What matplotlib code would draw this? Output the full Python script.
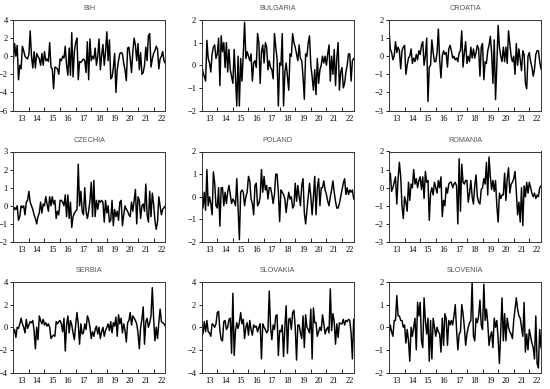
import numpy as np
import matplotlib
matplotlib.use("Agg")
from matplotlib import pyplot as plt

# monthly values, 2013M01 - 2022M10 (one row per year)
bih = [
    -0.6, 1.4, 0.0, 1.2, -2.6, -1.0, -1.4, 1.1, 0.6, 0.0, -0.2, -0.3,
    0.2, 2.8, 0.0, -1.3, 0.5, -1.3, 0.3, 0.0, -0.3, -1.0, 0.3, -1.0,
    0.5, -0.5, -0.3, -0.6, 1.5, -1.2, -1.4, -3.6, -1.2, -1.3, -1.4, -2.0,
    -0.3, -0.5, 0.0, -0.2, 1.1, -1.0, -2.1, 0.9, -2.1, 2.6, -2.3, 0.5,
    1.5, 2.0, -2.6, -0.6, -0.7, -0.5, -0.3, -0.5, -1.8, 1.6, -2.6, 1.9,
    -0.5, 0.0, -0.3, 0.9, -1.0, 0.0, 1.9, -1.5, 0.1, 1.3, -1.0, 0.5,
    2.7, -0.5, 1.8, -2.5, -2.3, -1.3, 0.3, -4.0, -1.5, -0.5, 0.3, 0.4,
    0.3, -0.8, -1.5, -2.7, 0.9, 1.0, -0.3, -1.8, 0.5, 2.0, 1.2, -0.5,
    1.4, -1.5, 0.4, -2.0, -1.8, -1.0, 1.0, -0.5, 2.3, 2.5, -1.2, -0.3,
    0.3, 0.6, 1.1, 0.8, -1.4, -0.3, 0.0, 0.5, -0.5, -0.8,
]
bulgaria = [
    0.0, -0.3, -0.5, -0.7, 1.1, 0.3, 0.1, -0.3, 0.5, 0.8, 0.9, 0.3,
    0.5, 1.2, -0.9, 1.3, 0.6, 1.0, -0.1, 1.0, -0.3, 0.7, -0.2, -0.5,
    -0.8, 0.7, -0.5, -1.8, 0.4, -1.8, 0.3, -0.7, 0.5, 1.9, 0.3, 0.6,
    0.4, 0.2, 0.5, -0.7, 0.1, 0.2, -0.1, 1.4, 1.0, -0.8, 0.6, 0.9,
    0.1, 1.0, 0.8, -0.2, 0.2, -0.1, -0.2, -0.6, 1.4, 0.8, 0.3, -1.8,
    0.1, 0.0, 1.4, -1.8, -0.3, 0.1, -0.5, -1.1, 0.5, 0.4, 1.4, 1.0,
    0.8, 0.5, 0.2, 0.9, 0.3, 0.2, -0.5, -1.5, 0.5, 0.4, 1.0, 1.3,
    0.0, -0.5, -1.1, -0.2, -1.3, 0.3, -0.8, -0.2, 0.0, 0.4, 0.1, 0.4,
    0.0, 0.5, 0.9, -0.7, 0.4, -0.4, 0.7, -0.9, 0.3, 1.0, -1.1, -0.3,
    -0.1, -1.0, -0.8, -0.3, 0.0, 0.5, 0.5, -0.7, 0.2, 0.3,
]
croatia = [
    1.5, 0.4, 0.2, -0.2, 0.0, 0.8, 0.2, 0.5, 0.3, -0.7, 0.3, 0.5,
    0.6, -1.0, -0.5, -0.1, 0.0, 0.4, -0.4, -0.1, -0.3, 0.1, -0.2, 0.3,
    0.1, 0.6, 0.8, -0.5, 0.0, 1.0, -2.5, -0.6, -0.5, 0.9, 0.2, -0.3,
    -0.3, 0.2, 1.5, -0.2, -1.2, 0.0, 0.3, 0.1, 0.2, -0.6, 0.4, 0.6,
    0.3, -0.1, 0.0, -0.2, -0.1, -0.3, 0.2, 0.3, 1.4, -0.6, 0.2, 0.8,
    -0.4, 0.0, -0.3, 0.5, -0.1, 0.4, -0.1, 0.2, 0.6, 0.4, -1.1, 0.5,
    0.7, -1.3, -0.3, -0.4, 0.3, 0.6, 1.1, 0.2, -1.5, 0.9, -2.4, -0.5,
    1.7, 0.5, 0.0, -0.3, 0.5, -0.3, 0.5, -0.4, 1.4, 0.7, 0.0, -0.3,
    0.0, -1.0, 0.7, -0.5, 0.4, -0.2, -0.8, 0.3, 0.1, -1.5, -1.8, 0.0,
    0.2, -0.3, -0.6, -1.1, -0.7, 0.1, 0.3, 0.3, -0.3, -0.7,
]
czechia = [
    -0.3, -0.1, -0.2, 0.0, -0.8, -0.6, 0.0, -0.1, 0.0, -0.5, 0.2, 0.3,
    0.8, 0.2, 0.0, -0.2, -0.5, -0.7, -1.0, -0.6, -0.4, 0.2, -0.4, 0.1,
    0.0, 0.5, 0.1, -0.3, 0.5, 0.0, 0.5, 0.1, 0.3, -0.7, -0.3, -0.5,
    0.3, 0.3, 0.2, 0.0, 0.6, -0.6, 0.6, -0.7, 0.2, -1.2, -0.6, -0.4,
    -0.3, -0.2, 2.3, 0.0, 0.8, -0.3, -0.5, 1.0, -0.3, -0.7, -0.3, 0.3,
    1.3, -0.6, 1.4, -0.6, 0.3, -0.2, 0.3, 0.2, 0.3, 0.2, -0.9, 0.3,
    -0.4, 0.0, -0.9, -0.8, 0.3, -1.1, -0.2, -0.6, -0.3, -0.8, 0.2, 0.3,
    -1.1, -0.5, 0.0, -0.2, -0.3, -0.5, -0.6, 0.2, -0.3, 0.3, 0.9, -1.0,
    0.5, 0.3, -0.7, 0.0, 0.1, -0.3, 1.2, -0.5, -0.9, 0.8, -0.6, 0.7,
    0.1, -0.8, -1.3, -0.9, 0.5, 0.0, -0.5, -0.2, -0.1, 0.0,
]
poland = [
    0.2, -0.5, 0.2, -0.6, 1.2, -0.4, 0.0, -0.3, -0.8, 1.1, 0.6, -0.4,
    -0.5, 0.4, -1.3, 0.4, 0.4, -0.4, 0.2, -0.3, 0.2, 0.5, 0.1, -0.3,
    -0.1, -0.2, -0.4, 0.8, -0.5, -1.9, 0.2, 0.3, 0.2, -0.4, 0.0, 0.2,
    0.9, 0.7, -0.1, -0.3, -0.8, 0.5, 0.6, -0.4, -0.3, 0.0, 1.2, 0.2,
    0.9, 0.3, 0.5, -0.1, 0.4, 0.4, 0.1, -0.3, 0.1, 1.0, 1.0, 0.2,
    -1.1, 0.3, 0.2, 0.1, -0.1, -0.7, -0.2, 0.2, -0.1, 0.0, -0.5, -0.4,
    0.6, -0.2, 0.5, 0.0, -0.4, 0.5, 0.8, -0.7, -1.2, -0.6, 0.0, 0.6,
    0.0, -0.8, 0.0, 0.9, -0.8, 0.4, 0.8, -0.4, 0.4, 0.4, 0.7, 0.3,
    0.1, -0.2, -0.4, 0.0, 0.3, 0.7, 0.2, -0.2, -0.5, -0.5, -0.3, 0.0,
    0.3, 0.6, 0.8, 0.1, 0.4, 0.1, 0.3, 0.2, 0.3, -0.1,
]
romania = [
    0.3, 0.8, -0.2, 0.0, 0.3, 0.6, -0.9, 0.5, 1.4, 0.6, -1.0, -1.7,
    -0.5, -0.8, -1.3, 0.3, -0.7, 0.2, 0.0, 1.0, 0.2, 0.5, 0.0, 0.4,
    0.6, -0.1, 0.6, -0.6, 0.9, 0.3, 0.4, -1.8, -0.3, 0.0, -0.4, 0.3,
    0.0, -0.3, 0.4, 0.0, 0.6, -1.6, -0.7, -1.0, 0.0, -0.3, 0.2, 0.3,
    0.3, 0.0, 0.2, 0.3, 0.1, -2.0, 1.6, -1.3, 1.3, 0.3, 0.2, 0.4,
    0.4, -0.8, -0.3, 0.4, -0.5, -0.9, 0.1, 0.7, -0.5, -0.8, -0.9, -0.1,
    0.0, 0.5, 0.2, 1.4, -0.4, 1.7, 0.6, -0.1, 0.4, -0.2, 0.4, -1.0,
    -1.9, -0.3, -0.6, -0.4, -0.4, 0.8, -0.7, 0.5, 1.1, -0.3, 0.2, 0.3,
    0.5, 0.9, -0.2, -1.5, -0.8, -1.9, 0.0, -2.1, 0.1, -0.5, 0.3, -0.3,
    0.3, 0.0, -0.3, -0.5, -0.3, -0.6, -0.4, -0.5, 0.0, 0.1,
]
serbia = [
    -0.5, -0.2, -0.9, 0.0, -0.1, 0.3, 0.8, 0.3, 0.0, -0.5, 0.7, -0.1,
    0.2, 0.5, 0.4, 0.6, -0.3, -1.9, 0.0, -1.1, 1.0, 0.6, 0.3, 0.7,
    0.2, 0.4, 0.1, 0.3, 0.0, -1.0, -0.8, -0.7, -0.8, 0.5, 0.3, 0.5,
    0.6, 0.3, -0.4, 0.8, -2.1, 0.2, 1.0, -0.5, 0.6, 0.2, -0.5, -1.1,
    0.2, 1.3, 0.3, -1.5, 0.3, -0.6, -0.5, 0.3, -0.2, 1.0, 0.7, 0.0,
    -1.0, -0.4, -0.8, -0.2, 0.1, -0.6, 0.0, -1.0, -0.4, 0.0, -0.8, -0.3,
    0.0, 0.3, -0.3, 0.5, -0.5, 0.4, 0.1, 0.9, -0.8, 1.1, 0.3, 0.8,
    -0.5, 0.3, -0.3, -1.3, 0.4, 0.6, 1.3, 0.2, 1.0, 0.8, 0.6, 0.3,
    -0.5, -1.9, 0.0, 0.7, 1.8, -1.5, 0.5, 0.8, 0.0, 0.4, 1.0, 3.5,
    0.8, -1.2, 0.0, -1.0, 0.4, 1.6, 0.5, 0.4, 0.3, 0.1,
]
slovakia = [
    0.5, -0.6, 0.5, -0.4, 0.6, -0.4, -0.5, -0.8, 0.3, 0.2, 0.0, 0.3,
    1.3, 1.4, -0.3, -1.1, -1.2, 0.5, 0.6, -0.2, 0.0, 0.7, 0.8, -2.3,
    3.0, -2.5, -0.3, 0.4, -0.1, 0.4, 1.3, 0.3, 0.7, -1.0, 0.0, 0.4,
    -0.7, 0.6, -0.2, -0.7, 0.2, 0.0, 0.1, -0.4, 0.0, 0.3, -2.8, 0.3,
    0.0, -0.2, -0.5, -0.3, 3.2, 0.0, -1.1, 0.2, -0.2, 1.0, 1.1, -2.5,
    -0.3, -0.4, 0.2, -2.6, 0.0, 1.9, -2.3, 0.7, 0.8, -0.2, 1.3, 1.5,
    0.0, -2.9, 0.2, 0.2, -0.5, -1.0, 1.0, -1.8, 1.1, 0.0, -0.2, -0.5,
    1.6, -2.8, 1.7, 0.4, 0.4, -0.8, -0.4, 0.0, -0.3, 1.1, 0.3, -0.6,
    -0.2, 0.0, -0.5, 3.4, -0.3, 1.2, 0.5, -1.5, 0.3, -0.9, 0.4, 0.3,
    0.3, 0.7, 0.2, 0.6, 0.5, 0.7, 0.6, -0.5, -2.8, 0.7,
]
slovenia = [
    -0.4, 0.1, -0.2, -0.4, 0.3, 0.3, 1.4, 0.5, 0.5, 0.3, 0.3, 0.0,
    0.1, -0.7, -0.1, -0.6, -1.5, 0.0, -0.4, 0.0, 0.4, -1.0, 1.1, 0.5,
    1.1, -0.6, -0.9, 1.3, 0.3, -0.3, 0.4, -1.5, 0.3, -1.4, 0.4, 0.0,
    -0.4, 0.0, -0.2, -0.3, -1.1, 0.4, -0.8, 0.6, 0.4, -0.8, 0.3, 0.1,
    0.3, 0.1, 0.5, 1.0, -0.1, -1.0, -0.3, -0.2, 1.0, 0.6, 0.0, -0.8,
    -0.3, 0.0, 0.2, 0.3, 2.0, -0.4, -0.6, 0.4, 0.2, 0.5, 1.2, 0.1,
    -0.1, 1.9, 0.3, 0.8, 0.2, -0.8, -0.4, -0.2, -0.9, 0.4, 0.0, 0.3,
    -0.5, -1.6, -0.2, 1.3, -0.6, 0.6, -0.6, 0.4, 0.0, -0.2, -0.3, -0.5,
    0.3, 0.8, 1.3, 0.8, 0.5, 0.4, 0.0, -0.4, 1.1, -1.1, -0.3, -1.0,
    -0.1, -0.4, -0.7, -0.9, -1.4, 0.5, -1.6, -1.8, -0.1, -0.9,
]

names = ['BIH', 'BULGARIA', 'CROATIA', 'CZECHIA', 'POLAND', 'ROMANIA',
         'SERBIA', 'SLOVAKIA', 'SLOVENIA']
series = [bih, bulgaria, croatia, czechia, poland, romania,
          serbia, slovakia, slovenia]
ylims = [(-6, 4), (-2, 2), (-3, 2), (-2, 3), (-2, 2), (-3, 2),
         (-4, 4), (-4, 4), (-2, 2)]
ysteps = [2, 1, 1, 1, 1, 1, 2, 2, 1]
year_labels = ['13', '14', '15', '16', '17', '18', '19', '20', '21', '22']

n_months = 118
col_left = [13.3, 201.7, 389.0]
row_top = [20.0, 151.5, 282.0]
ax_w, ax_h = 152.0, 90.5

fig = plt.figure(figsize=(5.5, 3.89), dpi=100)

for i, (name, vals) in enumerate(zip(names, series)):
    r, c = divmod(i, 3)
    left = col_left[c] / 550
    bottom = 1 - (row_top[r] + ax_h) / 389
    ax = fig.add_axes([left, bottom, ax_w / 550, ax_h / 389])
    x = np.arange(len(vals))
    ax.plot(x, vals, color='black', lw=1.05)
    ax.set_xlim(0, n_months - 1)
    lo, hi = ylims[i]
    ax.set_ylim(lo, hi)
    ax.set_yticks(np.arange(lo, hi + 0.1, ysteps[i]))
    # year boundaries as ticks, year labels centred between them
    ax.set_xticks(np.arange(12, n_months, 12))
    ax.set_xticklabels([])
    ax.set_xticks(np.arange(6, n_months + 6, 12)[:len(year_labels)], minor=True)
    ax.set_xticklabels(year_labels, minor=True)
    ax.tick_params(axis='x', which='major', direction='in', length=3, width=0.6)
    ax.tick_params(axis='x', which='minor', length=0, pad=3)
    ax.tick_params(axis='y', direction='out', length=2.5, width=0.6, pad=1.5)
    for lab in ax.get_xticklabels(minor=True) + ax.get_yticklabels():
        lab.set_fontfamily('Liberation Serif')
        lab.set_fontsize(6)
    for sp in ax.spines.values():
        sp.set_linewidth(0.7)
        sp.set_color('#333333')
    ax.set_title(name, fontsize=5.2, family='Liberation Sans', color='#555555', pad=7)

fig.savefig('out.png', dpi=100)
